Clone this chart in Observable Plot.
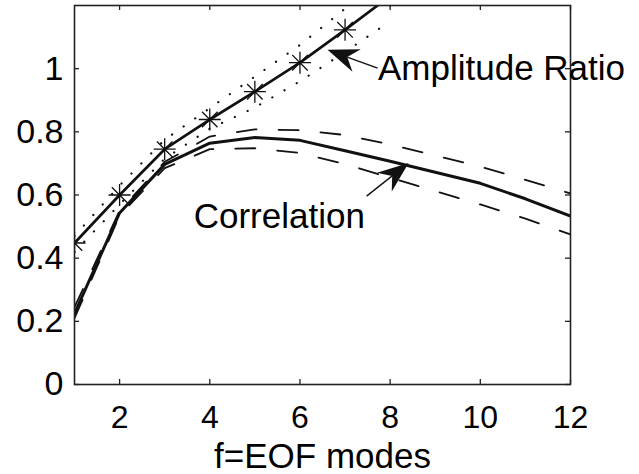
<!DOCTYPE html>
<html>
<head>
<meta charset="utf-8">
<script src="https://cdn.jsdelivr.net/npm/d3@7"></script>
<script src="https://cdn.jsdelivr.net/npm/@observablehq/plot@0.6"></script>
<style>
  html, body { margin: 0; padding: 0; background: #fff; }
  #chart svg { display: block; }
</style>
</head>
<body>
<div id="chart"></div>
<script>
// EOF modes
const ampModes = [1, 2, 3, 4, 5, 6, 7, 8];
const ampRatio = [0.448, 0.600, 0.745, 0.839, 0.927, 1.019, 1.123, 1.23];
const ampUpper = [0.47, 0.63, 0.775, 0.875, 0.975, 1.075, 1.19, 1.30];
const ampLower = [0.42, 0.57, 0.715, 0.81, 0.877, 0.96, 1.053, 1.15];

const corrModes = [1, 2, 3, 4, 5, 6, 7, 8, 9, 10, 11, 12];
const corr      = [0.225, 0.543, 0.697, 0.764, 0.782, 0.773, 0.740, 0.707, 0.672, 0.637, 0.588, 0.533];
const corrUpper = [0.245, 0.550, 0.705, 0.785, 0.808, 0.805, 0.790, 0.760, 0.725, 0.690, 0.648, 0.605];
const corrLower = [0.210, 0.535, 0.685, 0.745, 0.748, 0.733, 0.698, 0.655, 0.612, 0.570, 0.525, 0.475];

const xTicks = [2, 4, 6, 8, 10, 12];
const yTicks = [0, 0.2, 0.4, 0.6, 0.8, 1];

// annotations: label text, label anchor, arrow tail and tip
const annText  = ["Amplitude Ratio", "Correlation"];
const annTextX = [7.73, 3.644];
const annTextY = [0.963, 0.497];
const arrowX1  = [7.733, 7.489];
const arrowY1  = [1.000, 0.595];
const arrowX2  = [6.622, 8.422];
const arrowY2  = [1.058, 0.700];

const FONT = "'Liberation Sans', Arial, Helvetica, sans-serif";
const INK = "#111";

const W = 639, H = 474, ML = 74, MR = 69, MT = 5, MB = 90;
const FW = W - ML - MR, FH = H - MT - MB, TICK = 5;

const asterisk8 = {
  draw(ctx, size) {
    const r = Math.sqrt(size / Math.PI);
    const d = r * Math.SQRT1_2;
    ctx.moveTo(-r, 0); ctx.lineTo(r, 0);
    ctx.moveTo(0, -r); ctx.lineTo(0, r);
    ctx.moveTo(-d, -d); ctx.lineTo(d, d);
    ctx.moveTo(-d, d); ctx.lineTo(d, -d);
  }
};

function arrowMark(index, scales) {
  const g = d3.create("svg:g");
  for (let i = 0; i < arrowX1.length; i++) {
    const x1 = scales.x(arrowX1[i]), y1 = scales.y(arrowY1[i]);
    const x2 = scales.x(arrowX2[i]), y2 = scales.y(arrowY2[i]);
    const dx = x2 - x1, dy = y2 - y1, L = Math.hypot(dx, dy);
    const ux = dx / L, uy = dy / L, px = -uy, py = ux;
    const hl = 31, hw = 12, notch = 10;
    const bx = x2 - ux * hl, by = y2 - uy * hl;
    const nx = x2 - ux * (hl - notch), ny = y2 - uy * (hl - notch);
    g.append("line")
      .attr("x1", x1).attr("y1", y1).attr("x2", nx).attr("y2", ny)
      .attr("stroke", INK).attr("stroke-width", 1.4);
    g.append("path")
      .attr("d", `M${x2},${y2}L${bx + px * hw},${by + py * hw}L${nx},${ny}L${bx - px * hw},${by - py * hw}Z`)
      .attr("fill", INK);
  }
  return g.node();
}

const tk = {stroke: "#222", strokeWidth: 1.3};

const chart = Plot.plot({
  width: W,
  height: H,
  marginLeft: ML,
  marginRight: MR,
  marginTop: MT,
  marginBottom: MB,
  style: {fontFamily: FONT, background: "#fff", color: "#000"},
  x: {domain: [1, 12], axis: null},
  y: {domain: [0, 1.2], axis: null},
  marks: [
    // correlation and its bounds
    Plot.lineY(corrUpper, {x: corrModes, stroke: INK, strokeWidth: 1.8, strokeDasharray: "20,22", clip: true}),
    Plot.lineY(corrLower, {x: corrModes, stroke: INK, strokeWidth: 1.8, strokeDasharray: "20,22", clip: true}),
    Plot.lineY(corr, {x: corrModes, stroke: INK, strokeWidth: 3, clip: true}),
    // amplitude ratio and its bounds
    Plot.lineY(ampUpper, {x: ampModes, stroke: INK, strokeWidth: 2.2, strokeDasharray: "0.1,14", strokeLinecap: "round", clip: true}),
    Plot.lineY(ampLower, {x: ampModes, stroke: INK, strokeWidth: 2.2, strokeDasharray: "0.1,14", strokeLinecap: "round", clip: true}),
    Plot.lineY(ampRatio, {x: ampModes, stroke: INK, strokeWidth: 2.7, clip: true}),
    Plot.dot(ampRatio, {x: ampModes, y: d => d, symbol: asterisk8, r: 11, fill: "none", stroke: INK, strokeWidth: 1.3, clip: true}),
    // frame and inward ticks
    Plot.frame({stroke: "#222", strokeWidth: 1.6}),
    Plot.ruleX(xTicks, {x: d => d, insetTop: FH - TICK, ...tk}),
    Plot.ruleX(xTicks, {x: d => d, insetBottom: FH - TICK, ...tk}),
    Plot.ruleY(yTicks, {y: d => d, insetRight: FW - TICK, ...tk}),
    Plot.ruleY(yTicks, {y: d => d, insetLeft: FW - TICK, ...tk}),
    // tick labels
    Plot.axisX(xTicks, {anchor: "bottom", tickSize: 0, tickPadding: 21, fontSize: 32, fill: "#000", label: null, tickFormat: d => String(d)}),
    Plot.axisY(yTicks, {anchor: "left", tickSize: 0, tickPadding: 11, fontSize: 34, fill: "#000", label: null, tickFormat: d => String(d)}),
    Plot.text(["f=EOF modes"], {frameAnchor: "bottom", dy: 83, lineAnchor: "bottom", fontSize: 35, fill: "#000"}),
    // annotations
    arrowMark,
    Plot.text(annText, {x: annTextX, y: annTextY, text: d => d, textAnchor: "start", lineAnchor: "bottom", fontSize: 35, fill: "#000"})
  ]
});

document.getElementById("chart").appendChild(chart);
</script>
</body>
</html>
